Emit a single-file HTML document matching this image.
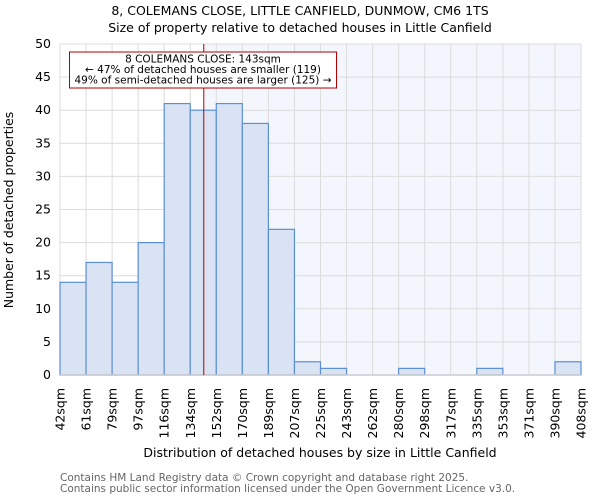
<!DOCTYPE html>
<html><head><meta charset="utf-8"><style>
body{margin:0;background:#fff;font-family:"DejaVu Sans","Liberation Sans",sans-serif;}
svg text{font-family:"DejaVu Sans","Liberation Sans",sans-serif;}
</style></head><body>
<svg id="chart" width="600" height="500" xmlns="http://www.w3.org/2000/svg">
<text x="300" y="15" font-size="12.5" text-anchor="middle" fill="#000">8, COLEMANS CLOSE, LITTLE CANFIELD, DUNMOW, CM6 1TS</text>
<text x="300" y="32" font-size="12.5" text-anchor="middle" fill="#000">Size of property relative to detached houses in Little Canfield</text>
<g id="plot"></g>
<text x="320" y="457" font-size="12.5" text-anchor="middle">Distribution of detached houses by size in Little Canfield</text>
<text transform="translate(13,210) rotate(-90)" font-size="12.5" text-anchor="middle">Number of detached properties</text>
<text x="60" y="481" font-size="10.5" fill="#666">Contains HM Land Registry data © Crown copyright and database right 2025.</text>
<text x="60" y="492" font-size="10.5" fill="#666">Contains public sector information licensed under the Open Government Licence v3.0.</text>
</svg>
<script>
const categories=["42sqm","61sqm","79sqm","97sqm","116sqm","134sqm","152sqm","170sqm","189sqm","207sqm","225sqm","243sqm","262sqm","280sqm","298sqm","317sqm","335sqm","353sqm","371sqm","390sqm","408sqm"];
const counts=[14,17,14,20,41,40,41,38,22,2,1,0,0,1,0,0,1,0,0,2];
const yTicks=[0,5,10,15,20,25,30,35,40,45,50];
const markerValue=143;
const binStart=42, binEnd=408;
const X0=60,X1=581,Y0=375,Y1=44,YMAX=50;
const NS="http://www.w3.org/2000/svg";
const g=document.getElementById('plot');
const n=counts.length, bw=(X1-X0)/n;
const xi=i=>X0+i*bw;
const y=v=>Y0-(v/YMAX)*(Y0-Y1);
const xv=v=>X0+(v-binStart)/(binEnd-binStart)*(X1-X0);
function mk(t,a){const e=document.createElementNS(NS,t);for(const k in a)e.setAttribute(k,a[k]);g.appendChild(e);return e;}
const mx=xv(markerValue);
let bg=mk('rect',{x:mx,y:Y1,width:X1-mx,height:Y0-Y1,fill:'#f3f6fd'});


for(let i=0;i<=n;i++){let l=mk('line',{x1:xi(i),x2:xi(i),y1:Y1,y2:Y0,stroke:'#dcdcdc','stroke-width':1});

}
yTicks.forEach(t=>{let l=mk('line',{x1:X0,x2:X1,y1:y(t),y2:y(t),stroke:'#dcdcdc','stroke-width':1});


let tx=mk('text',{x:X0-9,y:y(t)+4,'font-size':12.5,'text-anchor':'end'});tx.textContent=t;

});
counts.forEach((c,i)=>{if(c<=0)return;let r=mk('rect',{x:xi(i),y:y(c),width:bw,height:Y0-y(c),fill:'#dae3f3',stroke:'#5b8fd6','stroke-width':1.2});

});
mk('line',{x1:X0,x2:X1,y1:Y0,y2:Y0,stroke:'#c8cbd0','stroke-width':1.5});
categories.forEach((c,i)=>{let tx=mk('text',{transform:`translate(${xi(i)+4.5},388) rotate(-90)`,'font-size':12.5,'text-anchor':'end'});tx.textContent=c;

});
let ml=mk('line',{x1:mx,x2:mx,y1:Y1,y2:Y0,stroke:'#b00000','stroke-width':1});


let box=mk('rect',{x:69.5,y:52,width:267,height:36,fill:'#fff',stroke:'#b00000','stroke-width':1});


["8 COLEMANS CLOSE: 143sqm","← 47% of detached houses are smaller (119)","49% of semi-detached houses are larger (125) →"].forEach((s,k)=>{let tx=mk('text',{x:203,y:62.5+k*10.5,'font-size':10.5,'text-anchor':'middle'});tx.textContent=s;

});
</script>
</body></html>
